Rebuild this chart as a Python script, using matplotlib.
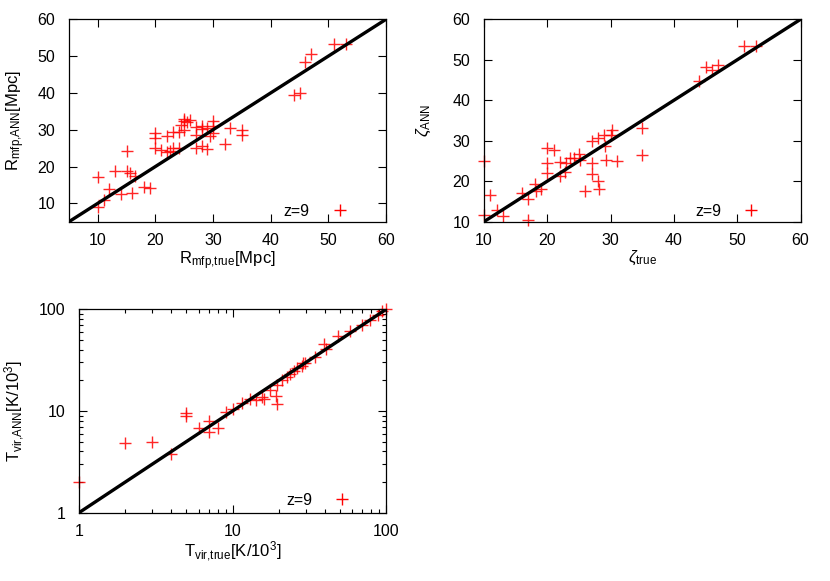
import numpy as np
import matplotlib
matplotlib.use('Agg')
import matplotlib.pyplot as plt
from matplotlib.lines import Line2D

plt.rcParams['font.family'] = ['Liberation Sans', 'DejaVu Sans']
plt.rcParams['mathtext.fontset'] = 'custom'
plt.rcParams['mathtext.rm'] = 'Liberation Sans'
plt.rcParams['mathtext.it'] = 'Liberation Sans:italic'
plt.rcParams['mathtext.default'] = 'regular'

# panel 1: mean free path
rmfp_true = [10, 10, 11, 12, 13, 14, 15, 15, 15.5, 16, 16.5, 18, 19, 20, 20, 20, 21, 22, 22,
             22.5, 23, 23, 24, 24, 24.5, 25, 25, 25.5, 26, 25, 27, 27, 27, 28, 28, 28, 29, 29,
             29.5, 30, 30, 30, 32, 33, 35, 35, 44, 45, 46, 47, 51, 53]
rmfp_ann = [8.9, 17.2, 10.9, 13.8, 18.7, 12.6, 24.1, 18.9, 18.3, 12.8, 17.4, 14.3, 14.1, 29.0, 27.8,
            24.9, 24.5, 24.0, 28.3, 24.2, 29.3, 25.0, 24.9, 29.5, 31.2, 32.3, 33.0, 32.0, 32.5,
            30.0, 30.8, 28.6, 25.0, 25.6, 30.2, 31.0, 24.8, 30.5, 28.4, 32.4, 31.0, 29.0, 26.0,
            30.4, 29.8, 28.5, 39.4, 40.0, 48.5, 50.6, 53.2, 53.2]

# panel 2: ionizing efficiency
zeta_true = [10, 10, 11, 12, 13, 16, 17, 17, 18, 18.2, 19, 20, 21, 20, 20, 22, 22, 22.8, 23,
             23.6, 24.3, 25, 25.2, 26, 27, 27, 27, 28, 28.2, 28, 28.9, 29.1, 29.3, 30, 30.2,
             31, 35, 35, 44, 45, 46, 47, 51, 53]
zeta_ann = [25.1, 11.6, 16.7, 13.0, 11.4, 17.1, 15.5, 10.4, 19.2, 17.6, 18.1, 28.1, 27.8, 24.4,
            22.1, 24.8, 21.2, 22.2, 24.5, 25.8, 25.8, 26.8, 25.2, 17.6, 29.9, 24.5, 21.7, 20.0,
            18.1, 30.7, 31.5, 28.6, 25.2, 31.3, 32.7, 25.1, 33.1, 26.6, 44.8, 48.3, 47.5, 48.6,
            53.4, 53.4]

# panel 3: virial temperature
tvir_true = [1, 2, 3, 4, 5, 5, 6, 7, 7, 8, 9, 10, 11.5, 13, 14.2, 15.5, 16.1, 17.5, 19.2, 19.6,
             19.4, 20.9, 22.5, 23.7, 25.1, 26.4, 28.2, 28.9, 29.7, 34.5, 39.5, 40.7, 48.9, 58.2,
             69.5, 78.7, 89, 93.7, 100]
tvir_ann = [2.0, 4.8, 4.9, 3.8, 9.6, 8.9, 6.8, 7.9, 6.2, 6.8, 9.8, 10.4, 11.9, 13.0, 12.8, 13.6,
            13.0, 16.1, 14.0, 11.6, 18.0, 20.2, 21.7, 23.1, 24.9, 26.3, 27.7, 29.5, 29.9, 34.2,
            45.3, 40.4, 54.6, 61.6, 70.1, 78.5, 87.9, 96.2, 100]

key_label = 'z=9'

TICK_FS = 11.5
LABEL_FS = 12


def style_axes(ax):
    ax.tick_params(which='both', direction='in', top=True, right=True, labelsize=TICK_FS,
                   width=0.8)
    ax.tick_params(axis='x', which='both', pad=8)
    ax.tick_params(axis='y', which='both', pad=10)
    ax.tick_params(which='major', length=5.5)
    ax.tick_params(which='minor', length=3)
    for s in ax.spines.values():
        s.set_linewidth(0.9)


def draw(ax, xs, ys, lo, hi, key_x=0.925, key_y=-0.01):
    ax.plot(xs, ys, ls='none', marker='+', color='red', markersize=8, mew=1.0,
            alpha=0.85, zorder=2, clip_on=False)
    ax.plot([lo, hi], [lo, hi], color='black', lw=2.4, zorder=3)
    ax.set_xlim(lo, hi)
    ax.set_ylim(lo, hi)
    h = Line2D([], [], ls='none', marker='+', color='red', markersize=8, mew=1.0)
    ax.legend([h], [key_label], loc='lower right', bbox_to_anchor=(key_x, key_y),
              frameon=False, markerfirst=False, fontsize=TICK_FS, handlelength=2.2,
              borderaxespad=0, borderpad=0.3)
    style_axes(ax)


fig = plt.figure(figsize=(8.3, 5.81), dpi=100)

ax1 = fig.add_axes([0.0831, 0.6184, 0.382, 0.3484])
draw(ax1, rmfp_true, rmfp_ann, 5, 60)
ax1.set_xticks([10, 20, 30, 40, 50, 60])
ax1.set_yticks([10, 20, 30, 40, 50, 60])
ax1.set_xlabel('R$_{mfp{,}true}$[Mpc]', fontsize=LABEL_FS, labelpad=1)
ax1.set_ylabel('R$_{mfp{,}ANN}$[Mpc]', fontsize=LABEL_FS, labelpad=7)

ax2 = fig.add_axes([0.583, 0.6184, 0.3816, 0.3484])
draw(ax2, zeta_true, zeta_ann, 10, 60, key_x=0.915)
ax2.set_xticks([10, 20, 30, 40, 50, 60])
ax2.set_yticks([10, 20, 30, 40, 50, 60])
ax2.set_xlabel(r'$\mathit{\zeta}_{true}$', fontsize=LABEL_FS, labelpad=1)
ax2.set_ylabel(r'$\mathit{\zeta}_{ANN}$', fontsize=LABEL_FS, labelpad=14)

ax3 = fig.add_axes([0.0952, 0.1176, 0.370, 0.350])
ax3.set_xscale('log')
ax3.set_yscale('log')
draw(ax3, tvir_true, tvir_ann, 1, 100, key_x=0.93, key_y=0.0)
ax3.set_xticks([1, 10, 100])
ax3.set_yticks([1, 10, 100])
ax3.set_xticklabels(['1', '10', '100'])
ax3.set_yticklabels(['1', '10', '100'])
ax3.tick_params(which='minor', labelbottom=False, labelleft=False)
ax3.set_xlabel('T$_{vir{,}true}$[K/10$^3$]', fontsize=LABEL_FS, labelpad=1)
ax3.set_ylabel('T$_{vir{,}ANN}$[K/10$^3$]', fontsize=LABEL_FS, labelpad=8)

fig.savefig('out.png', dpi=100)
